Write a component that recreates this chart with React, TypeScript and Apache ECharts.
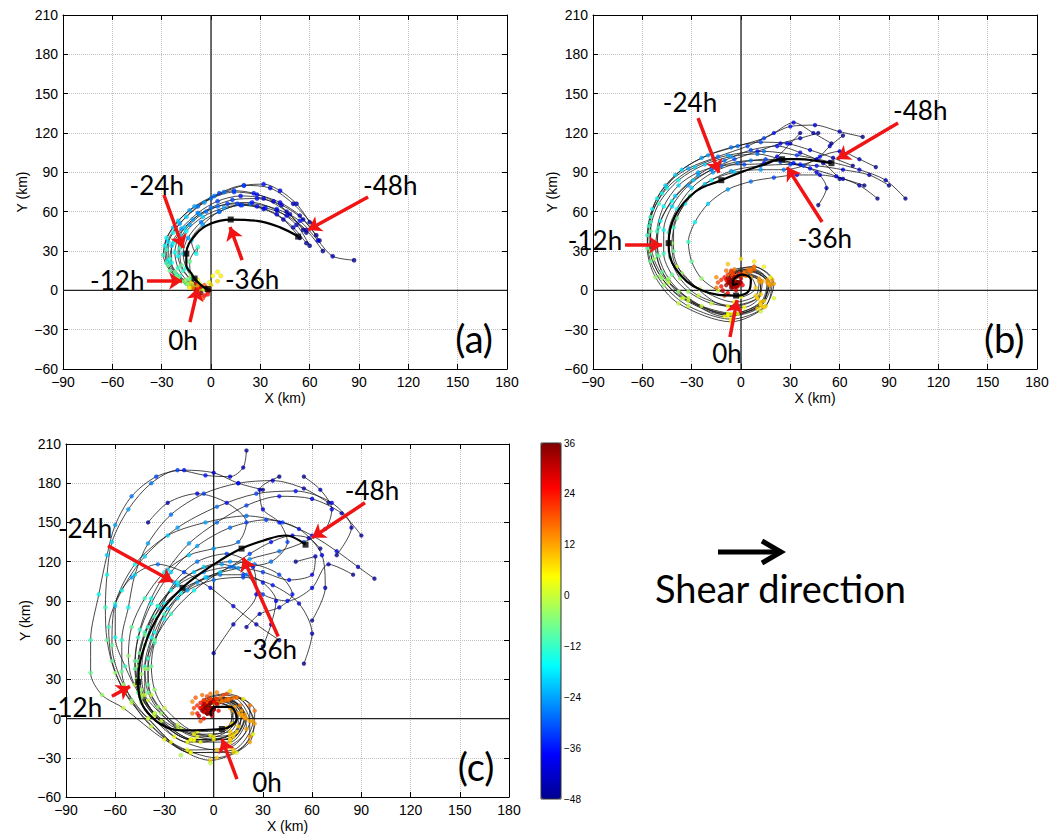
import React, { useEffect, useRef } from "react";
import * as echarts from "echarts";

// ---------- axes ----------
const X_MIN = -90, X_MAX = 180, Y_MIN = -60, Y_MAX = 210, STEP = 30;
const CB_MIN = -48, CB_MAX = 36, CB_STEP = 12;
// sampling hours of each trajectory point (index i -> HOURS[i])
const HOURS = [-48, -44, -40, -36, -32, -28, -24, -20, -16, -12, -8, -4, 0, 4, 8, 12, 16, 20, 24, 28, 32];
const JET = ["#00008f", "#0000ff", "#0080ff", "#00ffff", "#80ff80", "#ffff00", "#ff8000", "#ff0000", "#800000"];

// ---------- panel (a) ----------
const TRACKS_A = [
  [[62,50],[50,66],[36,78],[20,80],[5,74],[-8,64],[-19,51],[-26,37],[-26,23],[-21,12],[-15,5],[-10,1],[-6,0]],
  [[58,44],[46,60],[32,70],[18,72],[4,68],[-8,59],[-18,47],[-24,34],[-24,21],[-19,11],[-13,5],[-8,2],[-5,1]],
  [[66,38],[56,54],[43,65],[28,70],[13,69],[0,63],[-11,54],[-19,42],[-22,29],[-20,17],[-15,8],[-10,4],[-6,2]],
  [[87,23],[74,26],[65,38],[54,53],[40,62],[24,66],[8,63],[-5,56],[-15,45],[-19,32],[-18,19],[-13,9],[-7,3]],
  [[60,34],[52,50],[40,61],[25,67],[10,66],[-3,60],[-13,50],[-19,38],[-20,26],[-17,15],[-12,8],[-8,4],[-5,2]],
  [[54,40],[44,54],[32,62],[18,65],[5,60],[-6,52],[-14,40],[-17,28],[-15,17],[-11,9],[-8,5],[-5,2],[-3,1]],
  [[64,42],[54,57],[42,67],[28,73],[14,75],[0,70],[-13,61],[-23,48],[-28,34],[-27,21],[-21,11],[-14,5],[-8,2]],
  [[68,30],[58,46],[46,57],[33,63],[19,65],[5,60],[-5,50],[-12,38],[-9,28],[-8,33],[-13,22],[-12,12],[-7,5]],
  [[58,36],[50,48],[40,58],[28,64],[16,66],[4,64],[-7,58],[-16,48],[-23,36],[-25,24],[-22,14],[-16,7],[-10,3]],
  [[56,46],[48,58],[38,68],[26,74],[14,76],[2,72],[-10,64],[-20,53],[-27,40],[-29,27],[-25,15],[-18,7],[-11,3]],
  [[60,52],[52,66],[42,76],[32,81],[20,80],[8,75],[-4,67],[-15,56],[-23,44],[-27,31],[-26,19],[-20,9],[-13,3]],
];
const MEAN_A = [[53,41],[42,48],[28,53],[12,54],[0,51],[-9,43],[-15,28],[-15,19],[-12,13],[-10,9],[-7,5],[-4,2],[-2,1]];
const CORE_A = [
  [-4,1,2],[-1,6,3],[1,11,4],[4,14,5],[6,11,6],[4,7,7],[0,4,8],[-4,4,18],[-7,2,20],[-9,-1,22],[-7,-4,24],
  [-4,-4,26],[-2,-1,28],[-6,3,30],[-9,5,32],[-10,1,34],[-6,-2,36],[-8,4,14],[-11,2,16],[-10,-3,18],[-5,-6,20],
  [-2,-3,24],[-3,2,30],[-1,0,36],[-12,6,8],[-13,2,6],[-8,8,4],
];
const LABELS_A = [["-24h",-33,80],["-48h",109,80],["-12h",-57,8],["-36h",25,9],["0h",-17,-38]];
const ARROWS_A = [[-28.6,72.7,-17,32.3],[95.5,71.2,59,46],[-38.9,7.1,-17.6,7.1],[18.9,23.1,11.6,48.3],[-12.8,-24.2,-7.9,2]];
const TAG_A = ["(a)", 160, -36];

// ---------- panel (b) ----------
const TRACKS_B = [
  [[100,70],[88,84],[72,92],[54,98],[34,103],[14,106],[-8,103],[-28,94],[-45,78],[-55,56],[-57,32],[-52,10],[-38,-10],[-6,-24],[15,-12],[19,8],[8,18],[-5,14],[-8,7],[-5,3],[-3,6]],
  [[83,70],[72,80],[58,87],[42,93],[24,98],[6,99],[-12,95],[-29,84],[-42,68],[-50,48],[-51,27],[-45,8],[-32,-8],[-6,-18],[12,-9],[16,6],[6,14],[-4,11],[-7,6],[-4,3],[-2,6]],
  [[47,65],[52,78],[46,90],[32,97],[15,100],[-2,97],[-17,90],[-30,78],[-39,62],[-44,44],[-43,25],[-37,9],[-26,-4],[-4,-12],[10,-6],[12,6],[3,12],[-4,9],[-6,5],[-3,3],[-1,6]],
  [[74,117],[60,121],[45,126],[30,125],[14,116],[-2,110],[-20,103],[-36,92],[-48,74],[-55,52],[-55,30],[-49,11],[-36,-6],[-8,-19],[12,-12],[18,4],[8,16],[-5,14],[-8,8],[-6,4],[-3,5]],
  [[90,80],[78,88],[62,92],[46,95],[30,96],[12,95],[-6,91],[-22,81],[-34,66],[-41,48],[-41,30],[-36,13],[-25,1],[-4,-9],[9,-4],[11,7],[3,11],[-4,8],[-5,4],[-2,3],[-1,6]],
  [[60,85],[50,97],[36,105],[22,110],[6,107],[-10,99],[-26,88],[-40,72],[-49,53],[-52,33],[-48,14],[-38,-1],[-24,-12],[-2,-18],[14,-8],[16,8],[4,16],[-6,12],[-8,6],[-5,2],[-2,5]],
  [[55,112],[44,120],[32,128],[20,120],[4,110],[-14,102],[-32,93],[-46,80],[-54,62],[-57,42],[-55,22],[-47,4],[-32,-12],[-6,-22],[14,-13],[20,5],[8,18],[-6,15],[-9,8],[-6,4],[-3,6]],
  [[75,80],[62,85],[48,88],[34,88],[20,86],[6,83],[-8,77],[-20,66],[-28,52],[-32,37],[-30,22],[-24,9],[-14,0],[0,-5],[9,2],[6,10],[0,11],[-4,7],[-4,4],[-2,4],[0,6]],
  [[68,95],[56,101],[42,107],[28,112],[12,113],[-6,109],[-24,101],[-40,88],[-51,70],[-56,49],[-55,28],[-48,9],[-35,-6],[-8,-18],[12,-10],[17,6],[6,16],[-5,13],[-7,7],[-6,4],[-3,6]],
  [[47,120],[36,116],[24,112],[10,106],[-4,100],[-18,92],[-32,80],[-42,64],[-47,46],[-47,28],[-42,12],[-32,-1],[-18,-10],[2,-13],[12,-3],[11,9],[2,13],[-5,10],[-6,5],[-3,3],[-1,5]],
  [[62,118],[54,110],[46,100],[36,96],[24,100],[10,104],[-6,102],[-22,96],[-38,84],[-50,66],[-55,45],[-53,24],[-44,6],[-10,-20],[10,-14],[17,4],[6,15],[-5,12],[-7,6],[-5,3],[-2,6]],
  [[82,94],[72,100],[60,106],[48,102],[38,95],[26,92],[12,92],[-4,90],[-18,84],[-31,72],[-39,55],[-42,36],[-39,18],[-8,-12],[10,-6],[13,7],[3,12],[-4,9],[-5,4],[-4,3],[-1,6]],
  [[36,120],[30,112],[22,102],[14,97],[2,96],[-12,95],[-26,90],[-38,80],[-47,64],[-51,45],[-50,26],[-44,9],[-32,-6],[-8,-19],[12,-11],[17,5],[5,15],[-5,12],[-7,6],[-5,3],[-2,6]],
];
const MEAN_B = [[55,97],[45,99],[35,100],[25,100],[14,96],[2,91],[-12,84],[-28,75],[-40,57],[-44,36],[-40,17],[-24,0],[-3,-4],[5,0],[6,8],[1,12],[-4,9],[-5,4],[-2,5]];
const CORE_B = [
  [-8,12,20],[-12,8,22],[-12,3,24],[-8,-2,26],[-3,0,28],[-5,5,30],[-7,8,32],[-4,10,34],[-2,6,36],[-10,10,24],
  [-6,14,20],[-1,13,22],[-11,0,28],[-9,4,34],[-6,2,36],[-3,3,33],[0,9,30],[-14,6,20],[-4,16,16],[2,14,16],
  [-9,15,16],[-15,10,14],[-15,2,16],[-10,-4,18],[-7,6,36],[-5,8,36],[-8,9,30],[-2,11,28],[1,4,26],
  [8,22,6],[14,18,5],[18,10,4],[0,24,7],[-8,20,9],[20,-6,2],[12,-16,1],
];
const LABELS_B = [["-24h",-31,143.6],["-48h",109,137.5],["-12h",-88.8,38.4],["-36h",51,40],["0h",-8.5,-47.8]];
const ARROWS_B = [[-26.1,131.4,-13.4,89.5],[95.5,127.6,58.4,100.2],[-70.5,34.6,-48,34.6],[49.3,52.1,28,94],[-6.7,-35.6,-2.4,-7.4]];
const TAG_B = ["(b)", 160, -36];

// ---------- panel (c) ----------
const TRACKS_C = [
  [[98,107],[88,116],[75,128],[60,140],[42,150],[20,155],[-5,150],[-28,140],[-48,118],[-60,88],[-62,56],[-55,26],[-40,0],[-14,-26],[12,-26],[25,-4],[14,16],[-2,15],[-7,8],[-4,6],[-2,8]],
  [[20,205],[18,192],[10,185],[-5,186],[-22,190],[-38,180],[-52,160],[-62,135],[-65,110],[-66,85],[-65,60],[-60,35],[-50,12],[-26,-18],[2,-30],[22,-14],[22,10],[6,18],[-6,13],[-6,7],[-3,8]],
  [[30,175],[15,180],[0,188],[-18,190],[-35,185],[-50,170],[-60,148],[-65,125],[-70,95],[-75,60],[-75,35],[-68,18],[-55,8],[-30,-16],[-2,-32],[22,-18],[25,6],[8,19],[-6,14],[-6,7],[-3,8]],
  [[60,75],[68,100],[66,125],[52,145],[32,152],[10,146],[-10,132],[-26,112],[-38,88],[-46,62],[-48,38],[-44,16],[-32,-2],[-8,-18],[14,-10],[17,6],[5,14],[-5,10],[-5,5],[-3,5],[-1,8]],
  [[90,140],[78,157],[60,168],[40,170],[20,163],[2,150],[-15,134],[-28,114],[-38,92],[-45,68],[-48,44],[-45,20],[-36,2],[-12,-17],[12,-14],[19,3],[8,15],[-4,12],[-6,6],[-4,5],[-1,7]],
  [[55,42],[60,65],[52,88],[36,102],[18,108],[0,106],[-16,98],[-28,84],[-36,66],[-40,46],[-40,26],[-34,9],[-22,-5],[-2,-13],[11,-4],[10,8],[1,12],[-5,8],[-4,4],[-2,4],[0,7]],
  [[70,165],[55,176],[36,182],[15,180],[-6,172],[-26,156],[-40,134],[-48,110],[-52,85],[-56,60],[-56,36],[-50,14],[-38,-6],[-14,-26],[12,-24],[24,-2],[14,16],[-2,15],[-8,8],[-4,6],[-2,8]],
  [[0,50],[12,72],[26,95],[24,116],[8,126],[-10,120],[-24,104],[-32,84],[-38,62],[-42,40],[-40,20],[-32,4],[-20,-8],[0,-14],[12,-4],[10,9],[0,12],[-5,8],[-4,4],[-2,5],[0,8]],
  [[75,125],[84,146],[72,165],[50,174],[26,172],[2,162],[-22,146],[-42,124],[-56,98],[-64,70],[-62,44],[-54,20],[-40,0],[-16,-24],[10,-22],[22,-2],[12,16],[-3,14],[-8,8],[-4,6],[-2,8]],
  [[40,60],[26,72],[12,86],[-2,100],[-18,112],[-34,118],[-50,108],[-60,86],[-60,62],[-54,40],[-46,20],[-36,4],[-22,-8],[0,-16],[15,-6],[13,9],[2,14],[-5,10],[-6,5],[-3,4],[-1,7]],
  [[65,130],[58,138],[48,140],[35,135],[22,126],[10,116],[-4,108],[-18,100],[-30,88],[-40,70],[-45,50],[-47,30],[-44,12],[-24,-14],[2,-24],[20,-8],[16,10],[2,15],[-6,9],[-4,6],[-2,8]],
  [[50,120],[62,124],[60,110],[46,106],[30,112],[12,116],[-6,112],[-22,102],[-34,86],[-42,66],[-46,44],[-44,22],[-36,4],[-12,-16],[10,-13],[17,2],[8,14],[-4,11],[-6,6],[-4,4],[-1,7]],
  [[30,55],[35,72],[38,90],[30,104],[18,110],[4,110],[-10,104],[-22,92],[-30,76],[-36,58],[-38,40],[-36,22],[-30,8],[-10,-10],[8,-7],[12,6],[3,12],[-4,9],[-5,5],[-2,4],[0,7]],
  [[85,110],[70,118],[60,100],[45,90],[30,95],[20,110],[5,118],[-12,112],[-26,98],[-36,78],[-42,56],[-44,34],[-40,14],[-10,-14],[12,-12],[17,3],[7,14],[-4,11],[-5,5],[-3,5],[-1,7]],
  [[-40,150],[-28,165],[-10,172],[8,165],[20,150],[15,135],[0,130],[-15,125],[-30,112],[-42,92],[-50,70],[-52,48],[-48,26],[-16,-18],[10,-18],[20,0],[10,15],[-3,13],[-6,7],[-4,5],[-1,7]],
  [[40,185],[28,175],[30,160],[40,150],[45,135],[35,120],[15,115],[-5,108],[-20,96],[-30,80],[-36,60],[-40,38],[-38,18],[-12,-12],[10,-10],[15,4],[5,13],[-4,10],[-5,5],[-3,5],[0,7]],
  [[55,185],[65,175],[72,160],[68,145],[55,135],[40,128],[22,122],[4,112],[-12,98],[-26,80],[-36,60],[-42,38],[-42,18],[-14,-16],[10,-16],[19,0],[9,14],[-4,12],[-6,6],[-4,5],[-1,7]],
  [[20,70],[28,80],[40,85],[48,95],[40,110],[25,118],[10,120],[-6,116],[-22,104],[-34,86],[-42,64],[-46,40],[-44,18],[-14,-16],[10,-16],[19,1],[9,15],[-4,12],[-6,6],[-4,5],[-1,7]],
];
const MEAN_C = [[56,133],[44,140],[30,136],[17,130],[4,121],[-8,111],[-19,100],[-32,82],[-42,56],[-46,28],[-40,4],[-20,-9],[5,-8],[14,0],[10,9],[1,9],[-2,4],[-1,2]];
const CORE_C = [
  [-6,14,20],[-10,10,22],[-10,4,24],[-6,0,26],[-1,2,28],[-3,7,30],[-5,10,32],[-2,12,34],[0,8,36],[-8,12,24],
  [-4,17,20],[1,15,22],[-9,2,28],[-7,6,34],[-4,4,36],[-1,5,33],[2,11,30],[-12,8,20],[-2,19,16],[4,16,16],
  [-7,18,16],[-13,13,14],[-13,4,16],[-8,-2,18],[-5,8,36],[-3,10,36],[-6,11,30],[0,13,28],[3,6,26],[-11,16,18],[2,20,14],
  [10,21,7],[18,15,6],[24,-12,3],[14,-26,2],[-2,-34,0],[-20,-28,-2],
];
const LABELS_C = [["-48h",96.5,174.9],["-24h",-78.4,145.9],["-36h",34.3,52.9],["-12h",-84.5,8.6],["0h",32.5,-48.6]];
const ARROWS_C = [[92.2,165,60,138.3],[-64.4,132.2,-24.8,104.7],[39.3,62.8,17.9,123],[-62,17,-51,24.6],[14.2,-46.3,5.1,-15.8]];
const TAG_C = ["(c)", 160, -36];

const PANELS = [
  { tracks: TRACKS_A, mean: MEAN_A, core: CORE_A, labels: LABELS_A, arrows: ARROWS_A, tag: TAG_A },
  { tracks: TRACKS_B, mean: MEAN_B, core: CORE_B, labels: LABELS_B, arrows: ARROWS_B, tag: TAG_B },
  { tracks: TRACKS_C, mean: MEAN_C, core: CORE_C, labels: LABELS_C, arrows: ARROWS_C, tag: TAG_C },
];

// ---------- layout (pixels) ----------
const GRIDS = [
  { left: 63, top: 15, width: 444, height: 354 },
  { left: 593, top: 15, width: 444, height: 354 },
  { left: 66, top: 444, width: 443, height: 354 },
];
const CBAR = { left: 541, top: 443, width: 20, height: 356 };

const FONT = "'Liberation Sans', Arial, sans-serif";
const ANNOT_FONT = "Lato, 'Open Sans', sans-serif";
const minus = (v: number) => String(v).replace("-", "\u2212");

function textSeries(ax: any, items: any[], fontSize: number) {
  return {
    ...ax, type: "custom", silent: true, z: 7, clip: false,
    data: items.map((l) => [l[1], l[2]]),
    renderItem: (params: any, api: any) => {
      const pt = api.coord([api.value(0), api.value(1)]);
      return {
        type: "text", x: pt[0], y: pt[1],
        style: { text: items[params.dataIndex][0], fontSize, fontFamily: ANNOT_FONT, fill: "#000",
          align: "center", verticalAlign: "middle" },
      };
    },
  };
}

function buildOption() {
  const grid: any[] = [...GRIDS, CBAR].map((g) => ({ ...g, show: false }));
  const xAxis: any[] = [];
  const yAxis: any[] = [];
  const tick = { inside: true, length: 5, lineStyle: { color: "#000", width: 1 } };
  const line = { show: true, onZero: false, lineStyle: { color: "#000", width: 1 } };
  const split = { show: true, lineStyle: { color: "#c2c2c2", type: "dotted", width: 1 } };
  const label = { fontSize: 14, color: "#000", fontFamily: FONT, margin: 6, formatter: minus };
  GRIDS.forEach((_, i) => {
    xAxis.push({
      gridIndex: i, type: "value", min: X_MIN, max: X_MAX, interval: STEP, position: "bottom",
      name: "X (km)", nameLocation: "middle", nameGap: 22,
      nameTextStyle: { fontSize: 14, color: "#000", fontFamily: FONT },
      axisLine: line, axisTick: tick, axisLabel: label, splitLine: split,
    });
    yAxis.push({
      gridIndex: i, type: "value", min: Y_MIN, max: Y_MAX, interval: STEP, position: "left",
      name: "Y (km)", nameLocation: "middle", nameGap: 34,
      nameTextStyle: { fontSize: 14, color: "#000", fontFamily: FONT },
      axisLine: line, axisTick: tick, axisLabel: { ...label, margin: 5 }, splitLine: split,
    });
  });
  xAxis.push({ gridIndex: 3, type: "value", min: 0, max: 1, show: false });
  yAxis.push({
    gridIndex: 3, type: "value", min: CB_MIN, max: CB_MAX, interval: CB_STEP, position: "right",
    axisLine: { show: false }, axisTick: { show: false }, splitLine: { show: false },
    axisLabel: { fontSize: 10, color: "#000", fontFamily: FONT, margin: 3, formatter: minus },
  });
  GRIDS.forEach((_, i) => {
    xAxis.push({
      gridIndex: i, type: "value", min: X_MIN, max: X_MAX, interval: STEP, position: "top",
      axisLine: line, axisTick: tick, axisLabel: { show: false }, splitLine: { show: false },
    });
    yAxis.push({
      gridIndex: i, type: "value", min: Y_MIN, max: Y_MAX, interval: STEP, position: "right",
      axisLine: line, axisTick: tick, axisLabel: { show: false }, splitLine: { show: false },
    });
  });

  const series: any[] = [];
  const dotSeries: number[] = [];
  series.push({ type: "scatter", xAxisIndex: 3, yAxisIndex: 3, data: [], silent: true });

  PANELS.forEach((p, i) => {
    const ax = { xAxisIndex: i, yAxisIndex: i };
    series.push({ ...ax, type: "line", data: [[X_MIN, 0], [X_MAX, 0]], showSymbol: false, silent: true, z: 1,
      lineStyle: { color: "#222", width: 1.3 } });
    series.push({ ...ax, type: "line", data: [[0, Y_MIN], [0, Y_MAX]], showSymbol: false, silent: true, z: 1,
      lineStyle: { color: "#222", width: 1.3 } });
    p.tracks.forEach((t) => {
      series.push({ ...ax, type: "line", data: t, showSymbol: false, smooth: 0.3, silent: true, z: 2,
        lineStyle: { color: "#1a1a1a", width: 0.8 } });
    });
    const dots: number[][] = [];
    p.tracks.forEach((t) => t.forEach((pt, k) => dots.push([pt[0], pt[1], HOURS[k]])));
    p.core.forEach((c) => dots.push(c));
    dotSeries.push(series.length);
    series.push({ ...ax, type: "scatter", data: dots, symbolSize: i === 0 ? 4.5 : 4.2, silent: true, z: 3,
      itemStyle: { borderColor: "rgba(0,0,0,0.25)", borderWidth: 0.4 } });
    series.push({ ...ax, type: "line", data: p.mean, showSymbol: false, smooth: 0.4, silent: true, z: 4,
      lineStyle: { color: "#000", width: 2.2 } });
    series.push({ ...ax, type: "scatter", data: p.mean.filter((_, k) => k % 3 === 0 && k <= 12),
      symbol: "rect", symbolSize: 6, silent: true, z: 5, itemStyle: { color: "#000" } });
    series.push({ ...ax, type: "lines", coordinateSystem: "cartesian2d", silent: true, z: 6,
      data: p.arrows.map((a) => ({ coords: [[a[0], a[1]], [a[2], a[3]]] })),
      symbol: ["none", "arrow"], symbolSize: [0, 13],
      lineStyle: { color: "#f01414", width: 3.5, opacity: 1, curveness: 0 } });
    series.push(textSeries(ax, p.labels, 26));
    series.push(textSeries(ax, [p.tag], 38));
  });

  return {
    animation: false,
    backgroundColor: "#fff",
    grid,
    xAxis,
    yAxis,
    visualMap: {
      type: "continuous", min: CB_MIN, max: CB_MAX, dimension: 2, seriesIndex: dotSeries,
      inRange: { color: JET }, calculable: false, padding: 0, itemWidth: CBAR.width, itemHeight: CBAR.height,
      left: CBAR.left, top: CBAR.top, text: null, hoverLink: false,
    },
    graphic: [
      { type: "rect", shape: { x: CBAR.left, y: CBAR.top, width: CBAR.width, height: CBAR.height },
        style: { fill: "none", stroke: "#333", lineWidth: 1 }, z: 100, silent: true },
      { type: "line", shape: { x1: 718, y1: 552, x2: 779, y2: 552 }, style: { stroke: "#000", lineWidth: 5 }, z: 100 },
      { type: "polyline", shape: { points: [[762, 541], [781, 552], [762, 563]] },
        style: { stroke: "#000", lineWidth: 5, fill: null }, z: 100 },
      { type: "text", x: 655, y: 588, z: 100,
        style: { text: "Shear direction", fontSize: 38, fontFamily: ANNOT_FONT, fill: "#000", verticalAlign: "middle", align: "left" } },
    ],
    series,
  };
}

export default function App() {
  const ref = useRef<HTMLDivElement>(null);
  useEffect(() => {
    const chart = echarts.init(ref.current as HTMLDivElement, null, { renderer: "svg" });
    chart.setOption(buildOption() as any);
    return () => chart.dispose();
  }, []);
  return (
    <div
      ref={ref}
      style={{ position: "absolute", left: 0, top: 0, width: 1060, height: 834, background: "#fff" }}
    />
  );
}
